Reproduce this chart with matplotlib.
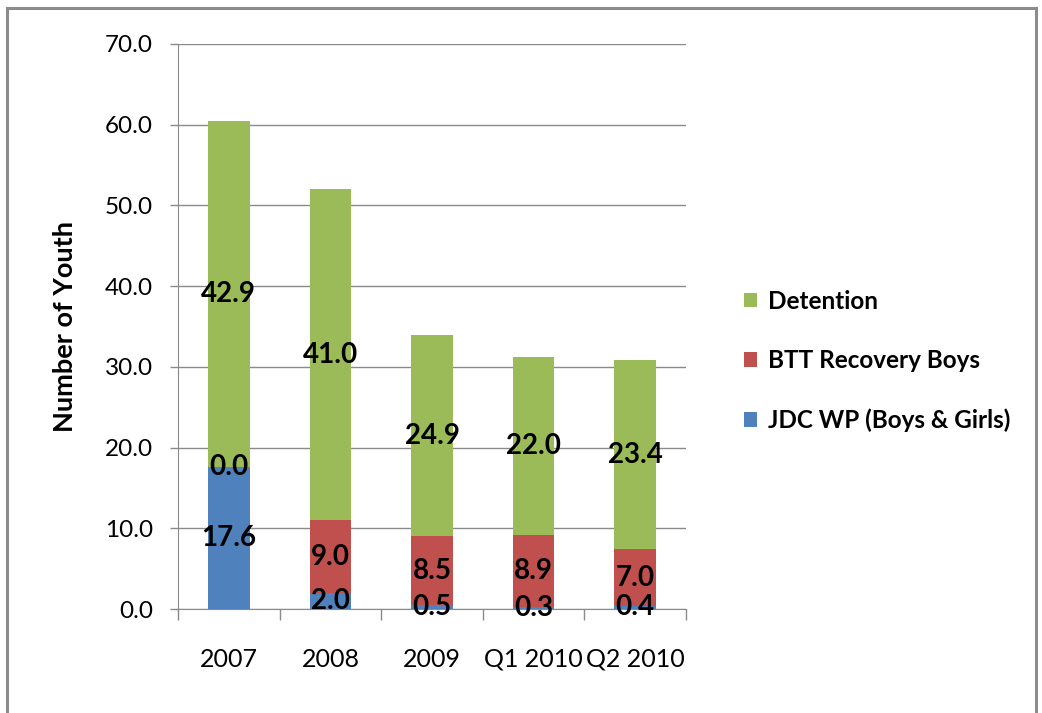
import matplotlib
matplotlib.use("Agg")
import matplotlib.pyplot as plt
from matplotlib.patches import Rectangle
import numpy as np

categories = ["2007", "2008", "2009", "Q1 2010", "Q2 2010"]
jdc_wp = [17.6, 2.0, 0.5, 0.3, 0.4]
btt_recovery = [0.0, 9.0, 8.5, 8.9, 7.0]
detention = [42.9, 41.0, 24.9, 22.0, 23.4]
series_names = ["JDC WP (Boys & Girls)", "BTT Recovery Boys", "Detention"]
colors = ["#4F81BD", "#C0504D", "#9BBB59"]
yticks = [0, 10, 20, 30, 40, 50, 60, 70]

W, H = 1042, 713
fig = plt.figure(figsize=(W / 100, H / 100), dpi=100)
fig.patch.set_facecolor("white")

# outer frame
fig.add_artist(Rectangle((7 / W, -0.05), (1036 - 7) / W, 1.05 - 8 / H,
                         transform=fig.transFigure, fill=False,
                         edgecolor="#8c8c8c", linewidth=2.2))

left, right, top, bottom = 178, 686, 44, 609
ax = fig.add_axes([left / W, 1 - bottom / H, (right - left) / W, (bottom - top) / H])

x = np.arange(len(categories))
width = 0.41
bottoms = np.zeros(len(categories))
font = ["Lato", "DejaVu Sans"]
for vals, name, c in zip([jdc_wp, btt_recovery, detention], series_names, colors):
    vals = np.array(vals)
    ax.bar(x, vals, width, bottom=bottoms, color=c, label=name, zorder=3)
    for xi, b, v in zip(x, bottoms, vals):
        ax.text(xi, b + v / 2, f"{v:.1f}", ha="center", va="center",
                fontsize=20, fontweight="bold", color="black", family=font, zorder=4)
    bottoms = bottoms + vals

ax.set_xlim(-0.5, len(categories) - 0.5)
ax.set_ylim(0, 70)
ax.set_yticks(yticks)
ax.set_yticklabels([f"{v:.1f}" for v in yticks], family=font, fontsize=17.5)
ax.yaxis.grid(True, color="#8a8a8a", linewidth=1.0, zorder=0)
ax.set_axisbelow(True)
ax.set_xticks(x)
ax.set_xticklabels(categories, family=font, fontsize=18)
ax.tick_params(axis="x", length=0, pad=28)
ax.tick_params(axis="y", length=6, width=1, color="#8a8a8a", pad=12)
# category boundary tick marks on x
ax.set_xticks(np.arange(-0.5, len(categories)), minor=True)
ax.tick_params(axis="x", which="minor", length=8, width=1, color="#8a8a8a")
for s in ["top", "right"]:
    ax.spines[s].set_visible(False)
ax.spines["left"].set_color("#8a8a8a")
ax.spines["bottom"].set_color("#8a8a8a")

ax.set_ylabel("Number of Youth", family=font, fontsize=19.5, fontweight="bold", labelpad=20)

handles, labels = ax.get_legend_handles_labels()
leg = fig.legend(handles[::-1], labels[::-1], loc="center left",
                 bbox_to_anchor=(722 / W, 1 - 361 / H), frameon=False,
                 prop={"family": font, "size": 17.5, "weight": "bold"},
                 handlelength=0.55, handleheight=0.55, handletextpad=0.45,
                 labelspacing=1.5)

fig.savefig("out.png", dpi=100)
